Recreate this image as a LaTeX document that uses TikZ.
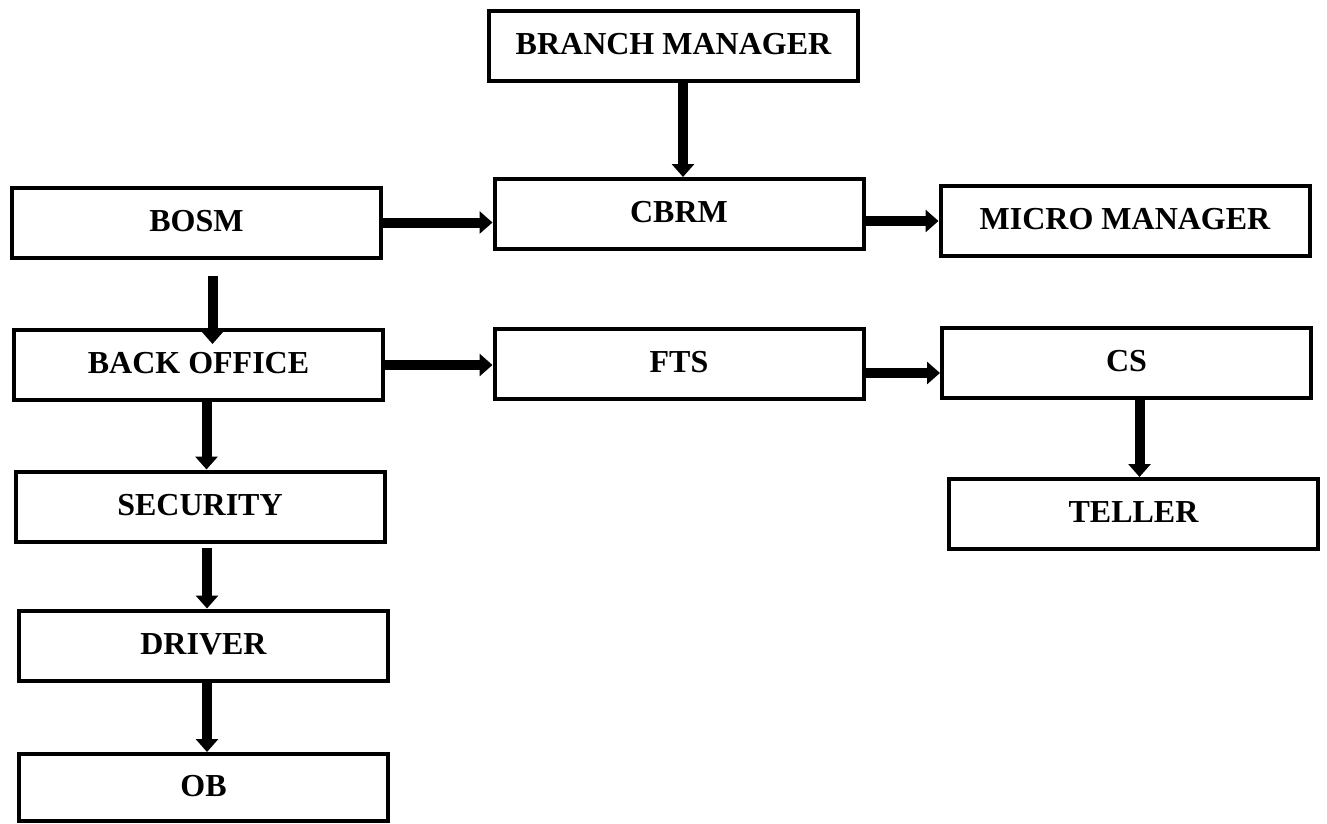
\documentclass[tikz,border=0pt]{standalone}
\usepackage{fontspec}
\setmainfont{Liberation Serif}
\usetikzlibrary{arrows.meta}
\begin{document}
\begin{tikzpicture}[x=1pt, y=-1pt,
	unit/.style={draw, line width=4pt, minimum width=369pt, minimum height=70pt, inner sep=0pt,
		font=\fontsize{32}{38}\selectfont\bfseries, text height=22pt, text depth=5pt},
	link/.style={line width=10pt, -{Triangle[width=22pt, length=13pt]}}]
	\useasboundingbox (0,0) rectangle (1327,824);
	% Top
	\node [unit] (bm) at (673.5,46.5) {BRANCH MANAGER};
	\node [unit] (cbrm) at (679,214) {CBRM};
	\node [unit] (mm) at (1125,221) {MICRO MANAGER};
	\node [unit] (fts) at (679,364) {FTS};
	\node [unit] (cs) at (1126.5,363) {CS};
	\node [unit] (teller) at (1133.5,514) {TELLER};
	% Left column
	\node [unit] (bosm) at (196.5,222.5) {BOSM};
	\node [unit] (bo) at (198.5,365) {BACK OFFICE};
	\node [unit] (sec) at (200,506.5) {SECURITY};
	\node [unit] (drv) at (203.5,645.5) {DRIVER};
	\node [unit, minimum height=67pt] (ob) at (203.5,787.5) {OB};
	% Arrows
	\draw [link] ([xshift=4pt]cbrm.north |- bm.south) -- ([xshift=4pt]cbrm.north);
	\draw [link] (bosm.east) -- (bosm.east -| cbrm.west);
	\draw [link] (cbrm.east |- mm.west) -- (mm.west);
	\draw [link] (bo.east) -- (bo.east -| fts.west);
	\draw [link] ([yshift=-9pt]fts.east) -- ([yshift=-9pt]fts.east -| cs.west);
	\draw [link] ([xshift=13pt]cs.south) -- ([xshift=13pt]cs.south |- teller.north);
	\draw [link, shorten <=16pt, shorten >=-16pt] ([xshift=16pt]bosm.south) -- ([xshift=16pt]bosm.south |- bo.north);
	\draw [link] ([xshift=8pt]bo.south) -- ([xshift=8pt]bo.south |- sec.north);
	\draw [link, shorten <=4pt] ([xshift=7pt]sec.south) -- ([xshift=7pt]sec.south |- drv.north);
	\draw [link] ([xshift=3.5pt]drv.south) -- ([xshift=3.5pt]drv.south |- ob.north);
\end{tikzpicture}
\end{document}
